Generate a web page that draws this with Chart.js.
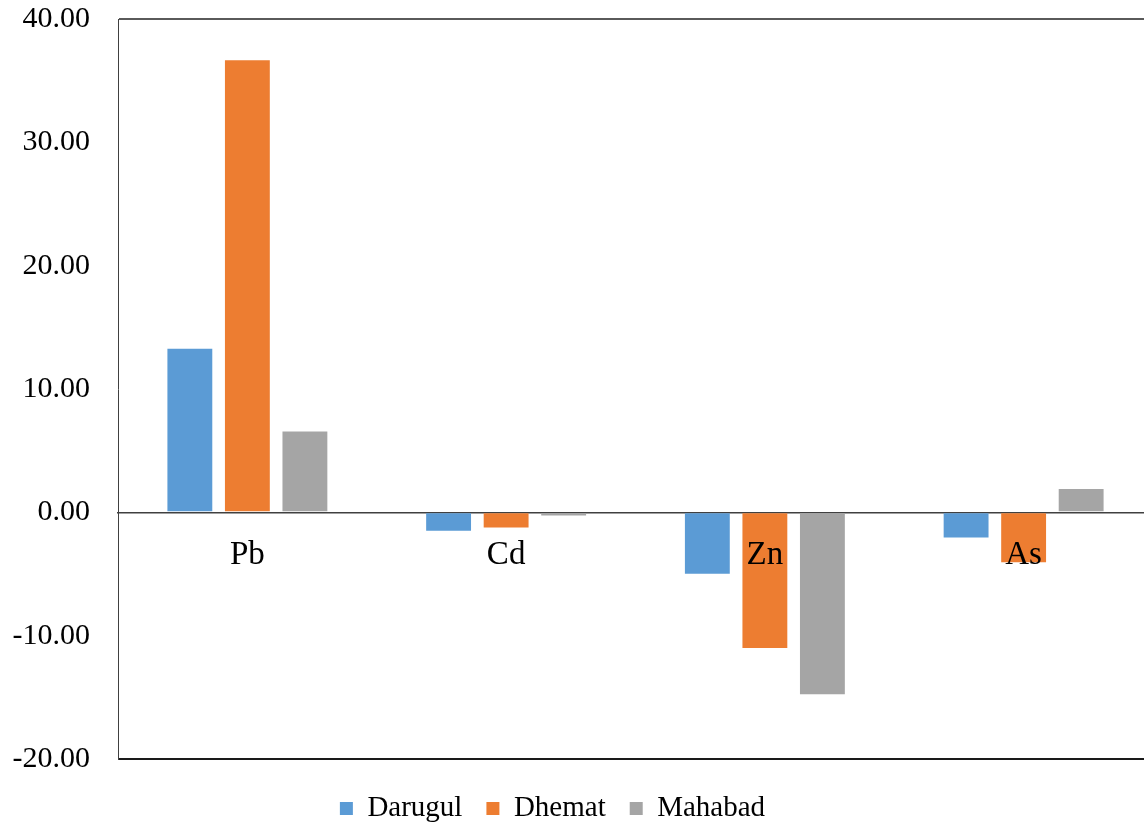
<!DOCTYPE html>
<html lang="en">
<head>
    <meta charset="UTF-8">
    <title>Metals chart</title>
    <script src="https://cdn.jsdelivr.net/npm/chart.js"></script>
    <style>
        body {
            background-color: #ffffff;
            margin: 0;
            padding: 0;
            overflow: hidden;
        }
        .chart-container {
            width: 1160px;
            height: 827px;
        }
    </style>
</head>
<body>
    <div class="chart-container">
        <canvas id="metalChart"></canvas>
    </div>

    <script>
        const metals = ["Pb", "Cd", "Zn", "As"];
        const darugul = [13.26, -1.50, -4.98, -2.05];
        const dhemat = [36.65, -1.22, -11.00, -4.05];
        const mahabad = [6.55, -0.25, -14.74, 1.90];
        const yTicks = [-20, -10, 0, 10, 20, 30, 40];

        const serif = "'Liberation Serif', 'Times New Roman', serif";

        // nudge the legend left and down a bit like the original
        const shiftLegend = {
            id: "shiftLegend",
            afterLayout(chart) {
                const lg = chart.legend;
                lg.left -= 24;
                lg.right -= 24;
                lg.top += 11;
                lg.bottom += 11;
            }
        };

        new Chart(document.getElementById("metalChart"), {
            type: "bar",
            data: {
                labels: metals,
                datasets: [
                    { label: "Darugul", data: darugul, backgroundColor: "#5B9BD5" },
                    { label: "Dhemat", data: dhemat, backgroundColor: "#ED7D31" },
                    { label: "Mahabad", data: mahabad, backgroundColor: "#A5A5A5" }
                ]
            },
            options: {
                responsive: true,
                maintainAspectRatio: false,
                animation: false,
                datasets: {
                    bar: { barPercentage: 0.78, categoryPercentage: 0.667 }
                },
                layout: {
                    padding: { top: 19, right: 7, bottom: 5, left: 0 }
                },
                plugins: {
                    tooltip: { enabled: false },
                    legend: {
                        position: "bottom",
                        labels: {
                            color: "#000",
                            font: { family: serif, size: 29 },
                            boxWidth: 13,
                            boxHeight: 13,
                            padding: 24
                        }
                    }
                },
                scales: {
                    x: {
                        position: { y: 0 },
                        grid: { display: false, drawTicks: false },
                        border: { color: "#404040", width: 1.5 },
                        ticks: {
                            z: 1,
                            color: "#000",
                            font: { family: serif, size: 33 },
                            padding: 23,
                            autoSkip: false,
                            maxRotation: 0
                        }
                    },
                    y: {
                        min: -20,
                        max: 40,
                        afterBuildTicks: scale => {
                            scale.ticks = yTicks.map(v => ({ value: v }));
                        },
                        afterFit: scale => {
                            scale.width = 118;
                            scale.paddingTop = 0;
                            scale.paddingBottom = 0;
                        },
                        grid: {
                            drawTicks: false,
                            lineWidth: 2,
                            color: ctx => {
                                if (ctx.tick && ctx.tick.value === -20) return "#1a1a1a";
                                if (ctx.tick && ctx.tick.value === 40) return "#5a5a5a";
                                return "rgba(0,0,0,0)";
                            }
                        },
                        border: { color: "#404040", width: 1 },
                        ticks: {
                            color: "#000",
                            font: { family: serif, size: 30 },
                            padding: 28,
                            callback: v => v.toFixed(2)
                        }
                    }
                }
            },
            plugins: [shiftLegend]
        });
    </script>
</body>
</html>
